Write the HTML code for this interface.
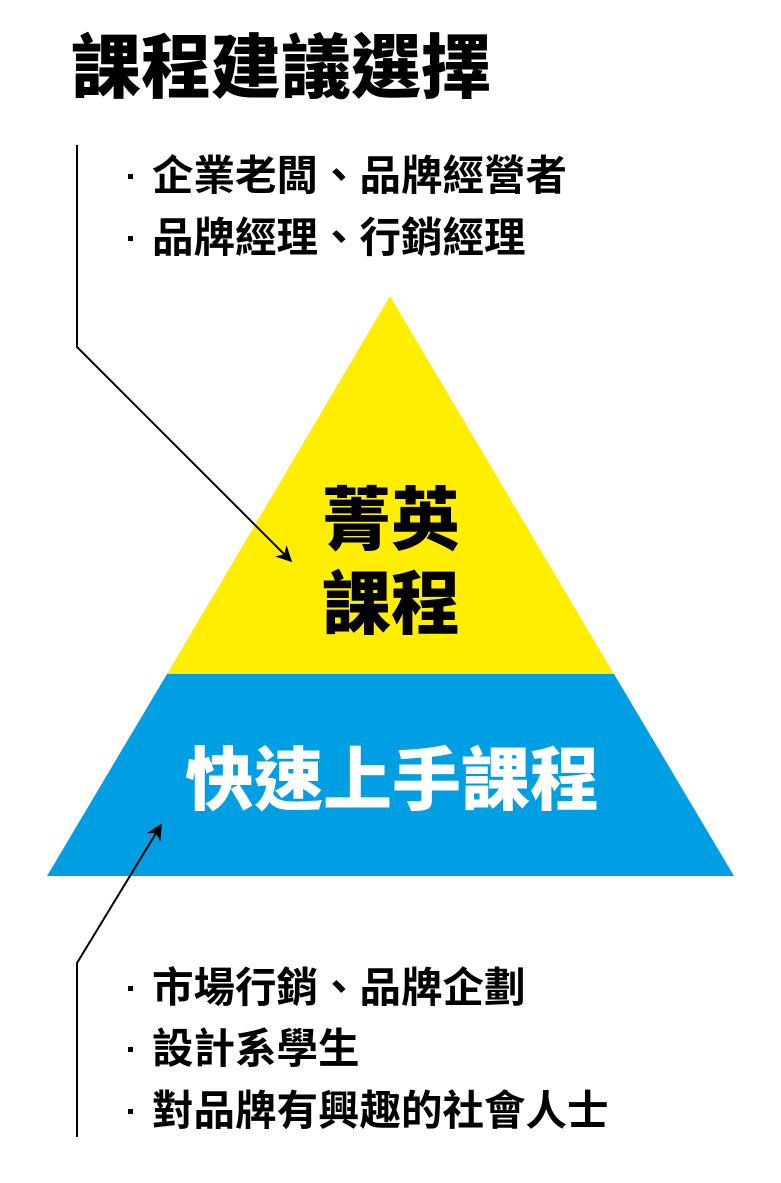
<!DOCTYPE html>
<html><head><meta charset="utf-8"><style>
html,body{margin:0;padding:0;background:#fff;}
body{width:781px;height:1183px;position:relative;overflow:hidden;font-family:"Liberation Sans","Noto Sans CJK TC",sans-serif;}
.t{position:absolute;white-space:nowrap;font-weight:bold;line-height:1;}
.d{position:absolute;width:5px;height:5px;background:#000;}
</style></head><body>
<svg width="781" height="1183" style="position:absolute;left:0;top:0">
<defs>
<marker id="b" viewBox="0 0 10 10" markerWidth="20" markerHeight="16" refX="9" refY="5" orient="auto" markerUnits="userSpaceOnUse"><path d="M0,0 L10,5 L0,10 L3,5 Z" fill="#000"/></marker></defs>
<polygon points="390,296 614,674 167,674" fill="#FFEE00"/>
<polygon points="167,674 614,674 734,876 47,876" fill="#009FE3"/>
<polyline points="77,145 77,347 291,561" fill="none" stroke="#000" stroke-width="2" marker-end="url(#b)"/>
<polyline points="77,1137 77,963 161,825" fill="none" stroke="#000" stroke-width="2" marker-end="url(#b)"/>
</svg>
<div class="t" style="left:71px;top:33px;font-size:70px;font-weight:900">課程建議選擇</div>
<div class="d" style="left:128px;top:174px"></div>
<div class="t" style="left:152px;top:155px;font-size:41.5px">企業老闆、品牌經營者</div>
<div class="d" style="left:128px;top:236px"></div>
<div class="t" style="left:152px;top:217px;font-size:41.5px">品牌經理、行銷經理</div>
<div class="t" style="left:322px;top:486px;font-size:69px;font-weight:900">菁英</div>
<div class="t" style="left:322px;top:570px;font-size:69px;font-weight:900">課程</div>
<div class="t" style="left:185px;top:746px;font-size:69px;font-weight:900;color:#fff">快速上手課程</div>
<div class="d" style="left:128px;top:986px"></div>
<div class="t" style="left:152px;top:967px;font-size:41.5px">市場行銷、品牌企劃</div>
<div class="d" style="left:128px;top:1047px"></div>
<div class="t" style="left:152px;top:1028px;font-size:41.5px">設計系學生</div>
<div class="d" style="left:128px;top:1109px"></div>
<div class="t" style="left:152px;top:1090px;font-size:41.5px">對品牌有興趣的社會人士</div>
</body></html>
